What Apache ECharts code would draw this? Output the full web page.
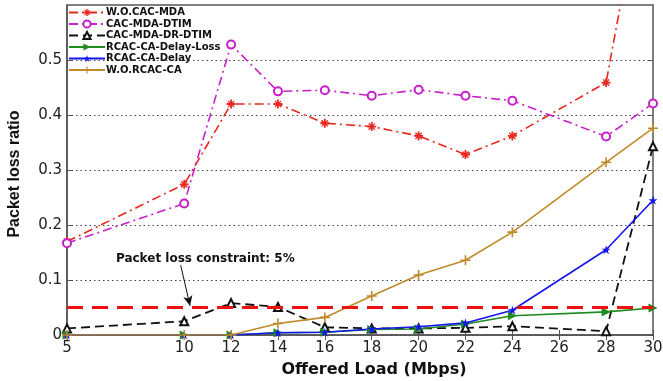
<!DOCTYPE html>
<html>
<head>
<meta charset="utf-8">
<script src="https://cdn.jsdelivr.net/npm/echarts@6/dist/echarts.min.js"></script>
<style>
  html, body { margin: 0; padding: 0; background: #fff; }
  #chart { width: 663px; height: 381px; }
</style>
</head>
<body>
<div id="chart"></div>
<script>
// Offered load (Mbps) for each measurement
const loads = [5, 10, 12, 14, 16, 18, 20, 22, 24, 28, 30];
const xTicks = [5, 10, 12, 14, 16, 18, 20, 22, 24, 26, 28, 30];
const yTicks = [0, 0.1, 0.2, 0.3, 0.4, 0.5];

// Packet loss ratio per scheme
const woCacMda      = [0.170, 0.274, 0.420, 0.420, 0.385, 0.379, 0.362, 0.328, 0.362, 0.459, 0.920];
const cacMdaDtim    = [0.167, 0.239, 0.528, 0.443, 0.445, 0.435, 0.446, 0.435, 0.426, 0.361, 0.421];
const cacMdaDrDtim  = [0.012, 0.025, 0.058, 0.051, 0.014, 0.012, 0.012, 0.013, 0.016, 0.007, 0.343];
const rcacDelayLoss = [0.000, 0.000, 0.000, 0.004, 0.005, 0.010, 0.011, 0.020, 0.035, 0.042, 0.049];
const rcacDelay     = [0.000, 0.000, 0.000, 0.004, 0.005, 0.011, 0.015, 0.022, 0.045, 0.155, 0.245];
const woRcacCa      = [0.000, 0.000, 0.000, 0.021, 0.032, 0.071, 0.109, 0.136, 0.187, 0.314, 0.376];

const seriesNames = ['W.O.CAC-MDA', 'CAC-MDA-DTIM', 'CAC-MDA-DR-DTIM', 'RCAC-CA-Delay-Loss', 'RCAC-CA-Delay', 'W.O.RCAC-CA'];

// Packet loss constraint and its annotation
const constraint = 0.05;
const constraintText = 'Packet loss constraint: 5%';
const notePos = [10.9, 0.139];
const arrowFrom = [9.85, 0.127];
const arrowTo = [10.25, 0.053];

const pair = ys => loads.map((x, i) => [x, ys[i]]);

const asterisk = 'path://M4,0h2v10h-2z M0,4h10v2h-10z M1,2L2,1L9,8L8,9Z M8,1L9,2L2,9L1,8Z';
const plus = 'path://M4.2,0h1.6v4.2h4.2v1.6h-4.2v4.2h-1.6v-4.2h-4.2v-1.6h4.2z';
const rightTri = 'path://M0,0L10,5L0,10Z';
const star = 'path://M5,0L6.2,3.8L10,3.8L6.9,6.1L8.1,10L5,7.6L1.9,10L3.1,6.1L0,3.8L3.8,3.8Z';

function line(name, ys, color, opts) {
  return Object.assign({
    name: name,
    type: 'line',
    data: pair(ys),
    color: color,
    showAllSymbol: true,
    emphasis: { disabled: true },
    animation: false,
    z: 3
  }, opts);
}

const chart = echarts.init(document.getElementById('chart'));
const frame = '#555';
const wide = 'DejaVu Sans, Verdana, sans-serif';
const narrow = 'Liberation Sans, Arial, sans-serif';

chart.setOption({
  backgroundColor: '#fff',
  animation: false,
  grid: {
    left: 67, right: 10, top: 5, bottom: 46,
    outerBoundsMode: 'none', containLabel: false,
    show: true, borderColor: frame, borderWidth: 1.5
  },
  legend: {
    orient: 'vertical',
    left: 68, top: 7,
    itemWidth: 36, itemHeight: 9, itemGap: 0.5,
    padding: 0,
    textStyle: { fontFamily: wide, fontWeight: 'bold', fontSize: 10, lineHeight: 11, color: '#111', padding: [0, 0, 0, -4] },
    data: seriesNames
  },
  xAxis: [{
    type: 'value', min: 5, max: 30,
    name: 'Offered Load (Mbps)', nameLocation: 'middle', nameGap: 27,
    nameTextStyle: { fontFamily: wide, fontWeight: 'bold', fontSize: 16, color: '#111', padding: [0, 0, 0, 28] },
    axisLine: { show: true, lineStyle: { color: frame, width: 1.5 } },
    axisTick: { show: true, inside: true, length: 5, customValues: xTicks, lineStyle: { color: frame } },
    axisLabel: { customValues: xTicks, fontFamily: wide, fontSize: 15, color: '#222', margin: 6 },
    splitLine: { show: false }
  }, {
    type: 'value', min: 5, max: 30, position: 'top',
    axisLine: { show: false },
    axisTick: { show: true, inside: true, length: 5, customValues: xTicks, lineStyle: { color: frame } },
    axisLabel: { show: false },
    splitLine: { show: false }
  }],
  yAxis: [{
    type: 'value', min: 0, max: 0.6,
    name: 'Packet loss ratio', nameLocation: 'middle', nameGap: 44,
    nameTextStyle: { fontFamily: narrow, fontWeight: 'bold', fontSize: 16, color: '#111', padding: [0, 0, 0, -8] },
    axisLine: { show: true, lineStyle: { color: frame, width: 1.5 } },
    axisTick: { show: true, inside: true, length: 5, customValues: yTicks, lineStyle: { color: frame } },
    axisLabel: { customValues: yTicks, fontFamily: wide, fontSize: 15, color: '#222', margin: 5 },
    splitLine: { show: true, lineStyle: { color: '#444', type: [1.5, 3], width: 1 } }
  }, {
    type: 'value', min: 0, max: 0.6, position: 'right',
    axisLine: { show: false },
    axisTick: { show: true, inside: true, length: 5, customValues: yTicks, lineStyle: { color: frame } },
    axisLabel: { show: false },
    splitLine: { show: false }
  }],
  series: [
    line(seriesNames[0], woCacMda, '#e8281e', {
      symbol: asterisk, symbolSize: 9,
      lineStyle: { width: 1.6, type: [9, 4, 2, 4] }
    }),
    line(seriesNames[1], cacMdaDtim, '#c81fc8', {
      symbol: 'emptyCircle', symbolSize: 8,
      itemStyle: { borderWidth: 1.6 },
      lineStyle: { width: 1.6, type: [9, 4, 2, 4] }
    }),
    line(seriesNames[2], cacMdaDrDtim, '#111', {
      symbol: 'emptyTriangle', symbolSize: 8,
      itemStyle: { borderWidth: 1.6 },
      lineStyle: { width: 1.8, type: [9, 5] }
    }),
    line(seriesNames[3], rcacDelayLoss, '#1e8c1e', {
      symbol: rightTri, symbolSize: 9,
      lineStyle: { width: 1.6 }
    }),
    line(seriesNames[4], rcacDelay, '#1515f0', {
      symbol: star, symbolSize: 9,
      lineStyle: { width: 1.6 }
    }),
    line(seriesNames[5], woRcacCa, '#bf8a2a', {
      symbol: plus, symbolSize: 10,
      lineStyle: { width: 1.6 }
    }),
    {
      // constraint line, annotation text and its arrow
      type: 'line', data: [], silent: true, animation: false, z: 2,
      markLine: {
        silent: true, animation: false,
        data: [
          { yAxis: constraint, symbol: 'none', lineStyle: { color: '#f01010', width: 3, type: [16, 9] }, label: { show: false } },
          [
            { coord: arrowFrom, symbol: 'none' },
            { coord: arrowTo, symbol: 'arrow', symbolSize: [7, 10] }
          ]
        ],
        lineStyle: { color: '#111', width: 1, type: 'solid' },
        label: { show: false },
        symbol: ['none', 'none']
      },
      markPoint: {
        silent: true, animation: false,
        symbol: 'circle', symbolSize: 0,
        data: [{ coord: notePos }],
        label: {
          show: true, position: 'inside', formatter: constraintText,
          fontFamily: wide, fontWeight: 'bold', fontSize: 12, color: '#111'
        }
      }
    }
  ]
});
</script>
</body>
</html>
